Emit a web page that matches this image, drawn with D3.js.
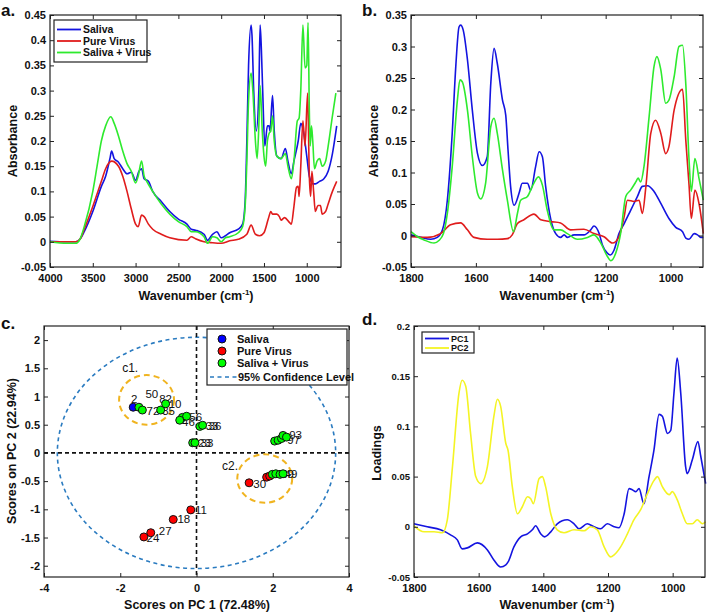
<!DOCTYPE html>
<html>
<head>
<meta charset="utf-8">
<title>FTIR spectra and PCA</title>
<script src="https://cdn.jsdelivr.net/npm/d3@7"></script>
<style>
body { margin: 0; background: #fff; }
text { font-family: "Liberation Sans", Arial, sans-serif; }
</style>
</head>
<body>
<script>

// ---- panel a: full spectra [wavenumber, absorbance] ----
var salivaA = [[4000,0.001],[3800,0],[3700,0],[3650,0.005],[3600,0.02],[3500,0.06],[3400,0.11],[3350,0.13],[3300,0.165],[3280,0.18],[3250,0.165],[3200,0.158],[3150,0.145],[3100,0.135],[3050,0.138],[3000,0.122],[2960,0.14],[2930,0.145],[2900,0.125],[2850,0.12],[2800,0.1],[2700,0.08],[2600,0.06],[2500,0.045],[2400,0.035],[2350,0.025],[2300,0.023],[2200,0.015],[2160,0.003],[2100,0.015],[2050,0.02],[2000,0.008],[1950,0.012],[1900,0.018],[1800,0.025],[1750,0.035],[1720,0.08],[1700,0.2],[1680,0.35],[1650,0.43],[1640,0.41],[1620,0.3],[1590,0.22],[1560,0.3],[1545,0.43],[1530,0.38],[1515,0.3],[1490,0.19],[1460,0.23],[1440,0.23],[1430,0.22],[1400,0.29],[1380,0.22],[1350,0.17],[1300,0.165],[1250,0.185],[1220,0.16],[1180,0.135],[1150,0.16],[1100,0.2],[1070,0.235],[1040,0.22],[1000,0.17],[970,0.13],[950,0.12],[930,0.115],[900,0.115],[850,0.12],[800,0.125],[750,0.14],[700,0.175],[650,0.23]];
var virusA = [[4000,0],[3700,0],[3650,0.005],[3600,0.025],[3500,0.07],[3400,0.12],[3350,0.145],[3280,0.16],[3200,0.15],[3150,0.13],[3100,0.1],[3050,0.065],[3000,0.035],[2970,0.03],[2930,0.053],[2900,0.05],[2850,0.035],[2800,0.025],[2700,0.015],[2600,0.008],[2400,0.003],[2350,0.01],[2300,0.006],[2200,0],[2100,-0.002],[2000,-0.003],[1900,0.002],[1800,0.005],[1700,0.015],[1650,0.033],[1600,0.015],[1550,0.012],[1500,0.018],[1450,0.045],[1420,0.06],[1400,0.055],[1350,0.055],[1320,0.05],[1300,0.043],[1260,0.048],[1200,0.038],[1180,0.035],[1150,0.07],[1120,0.108],[1100,0.11],[1090,0.09],[1070,0.15],[1045,0.24],[1020,0.19],[990,0.295],[970,0.13],[955,0.09],[940,0.14],[920,0.1],[900,0.06],[870,0.072],[840,0.072],[820,0.055],[780,0.06],[750,0.075],[700,0.1],[650,0.12]];
var mixA = [[4000,0],[3800,-0.003],[3700,-0.003],[3650,0.005],[3600,0.03],[3500,0.1],[3450,0.15],[3400,0.2],[3350,0.23],[3290,0.248],[3250,0.235],[3200,0.21],[3150,0.18],[3100,0.155],[3050,0.14],[3000,0.117],[2970,0.13],[2930,0.16],[2900,0.13],[2870,0.12],[2800,0.1],[2700,0.075],[2600,0.055],[2500,0.04],[2400,0.03],[2350,0.02],[2300,0.02],[2200,0.01],[2160,-0.003],[2100,0.01],[2050,0.008],[2000,0],[1950,0.008],[1900,0.01],[1800,0.018],[1750,0.03],[1720,0.07],[1700,0.16],[1680,0.28],[1650,0.335],[1630,0.3],[1600,0.2],[1580,0.165],[1560,0.23],[1545,0.31],[1520,0.22],[1500,0.17],[1480,0.15],[1460,0.2],[1440,0.215],[1420,0.22],[1400,0.25],[1380,0.2],[1350,0.17],[1300,0.165],[1250,0.175],[1220,0.15],[1180,0.125],[1150,0.16],[1110,0.24],[1090,0.245],[1070,0.3],[1045,0.43],[1020,0.345],[1000,0.35],[985,0.435],[970,0.26],[960,0.19],[945,0.23],[930,0.2],[910,0.145],[880,0.16],[850,0.165],[820,0.15],[780,0.16],[750,0.19],[700,0.25],[660,0.295]];

// ---- panel b: fingerprint region ----
var salivaB = [[1800,0.001],[1770,-0.003],[1739,-0.006],[1719,-0.003],[1703,0.009],[1688,0.056],[1673,0.162],[1662,0.268],[1652,0.331],[1647,0.334],[1639,0.326],[1626,0.279],[1611,0.199],[1595,0.13],[1580,0.111],[1565,0.125],[1554,0.242],[1544,0.297],[1534,0.273],[1518,0.215],[1508,0.191],[1501,0.136],[1493,0.078],[1482,0.048],[1467,0.067],[1457,0.083],[1441,0.083],[1431,0.072],[1416,0.109],[1405,0.133],[1395,0.125],[1385,0.078],[1369,0.025],[1354,0.003],[1339,-0.003],[1328,0.001],[1318,-0.003],[1297,0.001],[1267,0.001],[1246,0.009],[1236,0.015],[1220,0.003],[1210,-0.015],[1195,-0.028],[1186,-0.031],[1174,-0.023],[1159,0.003],[1143,0.019],[1123,0.04],[1102,0.062],[1087,0.078],[1071,0.079],[1051,0.07],[1030,0.051],[1005,0.027],[984,0.013],[963,0.006],[953,-0.004],[943,-0.006],[927,0.003],[917,0.001],[907,-0.003],[899,-0.003]];
var virusB = [[1800,-0.002],[1750,-0.003],[1709,0.003],[1678,0.017],[1647,0.02],[1626,0.009],[1606,-0.003],[1565,-0.006],[1534,-0.006],[1503,-0.005],[1488,0.001],[1472,0.019],[1452,0.025],[1421,0.034],[1400,0.025],[1369,0.022],[1339,0.02],[1308,0.009],[1267,0.01],[1236,0.003],[1205,-0.002],[1179,-0.012],[1159,-0.002],[1143,0.03],[1133,0.056],[1112,0.054],[1097,0.056],[1087,0.035],[1076,0.078],[1061,0.162],[1046,0.183],[1030,0.162],[1015,0.13],[1005,0.141],[989,0.199],[963,0.232],[953,0.151],[943,0.08],[936,0.027],[925,0.072],[912,0.05],[899,0.003]];
var mixB = [[1800,0.006],[1780,-0.002],[1760,-0.007],[1729,-0.012],[1714,-0.008],[1700,0.003],[1688,0.035],[1673,0.109],[1657,0.215],[1649,0.247],[1642,0.244],[1626,0.199],[1611,0.125],[1595,0.067],[1585,0.058],[1570,0.083],[1554,0.173],[1544,0.186],[1534,0.162],[1518,0.104],[1503,0.056],[1484,0.006],[1472,0.035],[1462,0.056],[1441,0.062],[1426,0.078],[1407,0.093],[1395,0.08],[1380,0.04],[1359,0.009],[1339,0.009],[1318,0.003],[1287,-0.006],[1256,-0.003],[1236,0.001],[1215,-0.012],[1195,-0.033],[1184,-0.04],[1169,-0.028],[1154,0.003],[1138,0.062],[1123,0.072],[1107,0.085],[1100,0.091],[1092,0.085],[1082,0.109],[1066,0.189],[1051,0.268],[1042,0.284],[1030,0.263],[1015,0.21],[1005,0.215],[989,0.252],[974,0.3],[963,0.302],[953,0.24],[943,0.12],[936,0.07],[925,0.122],[912,0.09],[899,0.056]];

// ---- panel c: PCA scores ----
var scoreX = [-1.66, 1.84, 1.38, -0.15, -0.61, -1.2, -1.38, 1.92, -1.51, -1.42, -0.94, -0.81, -0.37, -0.26, -0.44, 0.09, 0.16, -0.1, -0.04, 2.05, 2.14, 2.23, 2.27, 2.36, 1.99, 2.08, 2.19, 2.27];
var scoreY = [0.81, -0.43, -0.53, -1.01, -1.18, -1.415, -1.49, -0.41, 0.81, 0.76, 0.76, 0.87, 0.63, 0.65, 0.58, 0.47, 0.49, 0.18, 0.18, 0.21, 0.225, 0.255, 0.31, 0.28, -0.38, -0.37, -0.38, -0.37];
var scoreGroup = ["Saliva", "Pure Virus", "Pure Virus", "Pure Virus", "Pure Virus", "Pure Virus", "Pure Virus", "Pure Virus",
  "Saliva + Virus", "Saliva + Virus", "Saliva + Virus", "Saliva + Virus", "Saliva + Virus", "Saliva + Virus", "Saliva + Virus", "Saliva + Virus",
  "Saliva + Virus", "Saliva + Virus", "Saliva + Virus", "Saliva + Virus", "Saliva + Virus", "Saliva + Virus", "Saliva + Virus", "Saliva + Virus",
  "Saliva + Virus", "Saliva + Virus", "Saliva + Virus", "Saliva + Virus"];
var sampleLabel = ["2", "50", "82", "10", "72", "35", "46", "56", "33", "36", "23", "33", "93", "97", "39", "49", "30", "11", "18", "27", "24"];
var labelX = [-1.72, -1.34, -0.98, -0.73, -1.31, -0.9, -0.38, -0.19, 0.24, 0.32, 0.04, 0.11, 2.43, 2.38, 2.22, 2.31, 1.49, -0.04, -0.5, -0.99, -1.31];
var labelY = [0.95, 1.04, 0.955, 0.87, 0.74, 0.75, 0.55, 0.64, 0.47, 0.47, 0.18, 0.18, 0.31, 0.23, -0.37, -0.38, -0.545, -1.02, -1.18, -1.39, -1.5];
var groups = ["Saliva", "Pure Virus", "Saliva + Virus"];

// ---- panel d: PCA loadings ----
var pc1 = [[1800,0.003],[1759,0],[1718,-0.003],[1687,-0.008],[1666,-0.013],[1651,-0.022],[1635,-0.021],[1604,-0.016],[1573,-0.023],[1553,-0.033],[1532,-0.04],[1516,-0.038],[1509,-0.035],[1491,-0.02],[1470,-0.01],[1449,-0.007],[1434,-0.003],[1424,0.001],[1408,-0.007],[1396,-0.01],[1377,-0.005],[1357,0.003],[1326,0.007],[1305,0.003],[1290,-0.002],[1264,0.003],[1243,0],[1223,-0.002],[1202,0.003],[1181,0],[1166,-0.001],[1150,0.013],[1135,0.038],[1125,0.037],[1114,0.035],[1104,0.038],[1089,0.023],[1073,0.05],[1058,0.076],[1042,0.112],[1032,0.11],[1016,0.093],[1006,0.096],[996,0.133],[986,0.168],[975,0.133],[960,0.06],[955,0.053],[939,0.067],[922,0.085],[913,0.07],[898,0.043]];
var pc2 = [[1800,0.001],[1769,-0.005],[1738,-0.005],[1712,-0.006],[1697,0.007],[1681,0.06],[1661,0.133],[1651,0.146],[1640,0.14],[1625,0.093],[1609,0.05],[1594,0.043],[1573,0.06],[1553,0.11],[1542,0.127],[1532,0.12],[1516,0.083],[1509,0.076],[1496,0.04],[1480,0.013],[1465,0.02],[1449,0.03],[1439,0.028],[1431,0.023],[1413,0.048],[1403,0.05],[1393,0.04],[1377,0.013],[1357,-0.003],[1336,-0.006],[1305,-0.003],[1274,-0.004],[1254,0],[1233,-0.003],[1212,-0.02],[1192,-0.03],[1181,-0.028],[1161,-0.02],[1140,-0.007],[1120,0.007],[1099,0.017],[1078,0.033],[1058,0.046],[1047,0.05],[1032,0.04],[1011,0.032],[1001,0.035],[986,0.027],[970,0.013],[955,0.003],[939,0.003],[924,0.007],[908,0.003],[898,0.005]];

var blue = "#1414e0", red = "#e01c1c", green = "#2eea2e", yellow = "#f4f424";
var fill = {"Saliva": "#0000ff", "Pure Virus": "#ff0000", "Saliva + Virus": "#00ff00"};

var svg = d3.select("body").append("svg").attr("width", 708).attr("height", 615);

// box with inward ticks on all four sides
function frame(x, y, xticks, yticks, yfont) {
  var g = svg.append("g");
  var r = x.range(), t = y.range();
  var x0 = Math.min(r[0], r[1]), x1 = Math.max(r[0], r[1]);
  var y0 = Math.min(t[0], t[1]), y1 = Math.max(t[0], t[1]);
  var fmt = function(v) { return String(+v.toFixed(3)); };

  var bottom = g.append("g").attr("transform", "translate(0," + y1 + ")")
    .call(d3.axisBottom(x).tickValues(xticks).tickSizeInner(-4).tickSizeOuter(0).tickPadding(7).tickFormat(fmt));
  g.append("g").attr("transform", "translate(0," + y0 + ")")
    .call(d3.axisTop(x).tickValues(xticks).tickSizeInner(-4).tickSizeOuter(0).tickFormat(""));
  var left = g.append("g").attr("transform", "translate(" + x0 + ",0)")
    .call(d3.axisLeft(y).tickValues(yticks).tickSizeInner(-4).tickSizeOuter(0).tickPadding(4).tickFormat(fmt));
  g.append("g").attr("transform", "translate(" + x1 + ",0)")
    .call(d3.axisRight(y).tickValues(yticks).tickSizeInner(-4).tickSizeOuter(0).tickFormat(""));

  g.selectAll(".domain").remove();
  g.selectAll(".tick line").attr("stroke", "#222").attr("stroke-width", 1);
  g.selectAll(".tick text").attr("fill", "#111").style("font-weight", "bold").style("font-size", "11px")
    .style("font-family", "'Liberation Sans', Arial, sans-serif");
  if (yfont) left.selectAll(".tick text").style("font-size", yfont);

  g.append("rect").attr("x", x0).attr("y", y0).attr("width", x1 - x0).attr("height", y1 - y0)
    .attr("fill", "none").attr("stroke", "#222").attr("stroke-width", 1.2);
  return g;
}

function xTitle(cx, y, withUnit, label) {
  var t = svg.append("text").attr("x", cx).attr("y", y).attr("text-anchor", "middle")
    .style("font-size", "12.5px").style("font-weight", "bold").attr("fill", "#111");
  if (withUnit) {
    t.append("tspan").text("Wavenumber (cm");
    t.append("tspan").attr("dy", -5).style("font-size", "8px").text("-1");
    t.append("tspan").attr("dy", 5).text(")");
  } else {
    t.text(label);
  }
}

function yTitle(x, cy, label) {
  svg.append("text").attr("transform", "translate(" + x + "," + cy + ") rotate(-90)")
    .attr("text-anchor", "middle").style("font-size", "12.5px").style("font-weight", "bold")
    .attr("fill", "#111").text(label);
}

function panelTag(x, y, s) {
  svg.append("text").attr("x", x).attr("y", y).style("font-size", "17px").style("font-weight", "bold")
    .attr("fill", "#111").text(s);
}

function spectrum(x, y, data, color, width) {
  var line = d3.line().x(function(d) { return x(d[0]); }).y(function(d) { return y(d[1]); })
    .curve(d3.curveMonotoneX);
  svg.append("path").datum(data).attr("d", line).attr("fill", "none")
    .attr("stroke", color).attr("stroke-width", width || 1.6).attr("stroke-linejoin", "round");
}

function lineLegend(x, y, w, h, names, colors, fs, rowY, lineW) {
  var g = svg.append("g").attr("transform", "translate(" + x + "," + y + ")");
  g.append("rect").attr("width", w).attr("height", h).attr("fill", "#fff").attr("stroke", "#222").attr("stroke-width", 1.2);
  names.forEach(function(n, i) {
    g.append("line").attr("x1", 3).attr("x2", 3 + lineW).attr("y1", rowY[i]).attr("y2", rowY[i])
      .attr("stroke", colors[i]).attr("stroke-width", 1.8);
    g.append("text").attr("x", 5 + lineW).attr("y", rowY[i]).attr("dy", "0.35em")
      .style("font-size", fs).style("font-weight", "bold").attr("fill", "#111").text(n);
  });
}

// ---------- a ----------
var xa = d3.scaleLinear().domain([4000, 600]).range([50, 341]);
var ya = d3.scaleLinear().domain([-0.05, 0.45]).range([267, 15]);
spectrum(xa, ya, salivaA, blue);
spectrum(xa, ya, virusA, red);
spectrum(xa, ya, mixA, green);
frame(xa, ya, d3.range(1000, 4001, 500), d3.range(-0.05, 0.451, 0.05));
lineLegend(54, 20, 93, 42, groups, [blue, red, green], "10.5px", [9.5, 21, 32.5], 24);
xTitle(196, 300, true);
yTitle(17, 141, "Absorbance");
panelTag(1, 16, "a.");

// ---------- b ----------
var xb = d3.scaleLinear().domain([1800, 900]).range([411, 703]);
var yb = d3.scaleLinear().domain([-0.05, 0.35]).range([267, 15]);
spectrum(xb, yb, salivaB, blue);
spectrum(xb, yb, virusB, red);
spectrum(xb, yb, mixB, green);
frame(xb, yb, d3.range(1000, 1801, 200), d3.range(-0.05, 0.351, 0.05));
xTitle(557, 300, true);
yTitle(378, 141, "Absorbance");
panelTag(362, 16, "b.");

// ---------- c ----------
var xc = d3.scaleLinear().domain([-4, 4]).range([44, 349]);
var yc = d3.scaleLinear().domain([-2.2, 2.25]).range([577, 326]);
var gc = svg.append("g");
gc.append("ellipse").attr("cx", xc(0)).attr("cy", yc(0))
  .attr("rx", xc(3.65) - xc(0)).attr("ry", yc(0) - yc(2.05))
  .attr("fill", "none").attr("stroke", "#2a7bc0").attr("stroke-width", 1.6).attr("stroke-dasharray", "4,3.5");
gc.append("line").attr("x1", xc(0)).attr("x2", xc(0)).attr("y1", 326).attr("y2", 577)
  .attr("stroke", "#111").attr("stroke-width", 1.6).attr("stroke-dasharray", "4,3");
gc.append("line").attr("x1", 44).attr("x2", 349).attr("y1", yc(0)).attr("y2", yc(0))
  .attr("stroke", "#111").attr("stroke-width", 1.6).attr("stroke-dasharray", "4,3");

// highlighted clusters c1 / c2
[[-1.31, 0.94, 0.72, 0.44], [1.79, -0.455, 0.72, 0.43]].forEach(function(c) {
  gc.append("ellipse").attr("cx", xc(c[0])).attr("cy", yc(c[1]))
    .attr("rx", xc(c[0] + c[2]) - xc(c[0])).attr("ry", yc(c[1]) - yc(c[1] + c[3]))
    .attr("fill", "none").attr("stroke", "#f0b420").attr("stroke-width", 2).attr("stroke-dasharray", "6,4");
});
gc.append("text").attr("x", xc(-1.95)).attr("y", yc(1.43)).style("font-size", "12px").attr("fill", "#111").text("c1.");
gc.append("text").attr("x", xc(0.67)).attr("y", yc(-0.3)).style("font-size", "12px").attr("fill", "#111").text("c2.");

gc.selectAll("text.lab").data(sampleLabel).enter().append("text").attr("class", "lab")
  .attr("x", function(d, i) { return xc(labelX[i]); })
  .attr("y", function(d, i) { return yc(labelY[i]); })
  .attr("dy", "0.35em").style("font-size", "11.5px").attr("fill", "#111").text(function(d) { return d; });

var order = d3.range(scoreX.length).sort(function(a, b) {
  return groups.indexOf(scoreGroup[a]) - groups.indexOf(scoreGroup[b]);
});
gc.selectAll("circle.pt").data(order).enter().append("circle").attr("class", "pt")
  .attr("cx", function(i) { return xc(scoreX[i]); })
  .attr("cy", function(i) { return yc(scoreY[i]); })
  .attr("r", 4).attr("fill", function(i) { return fill[scoreGroup[i]]; })
  .attr("stroke", "#111").attr("stroke-width", 1);

frame(xc, yc, [-4, -2, 0, 2, 4], d3.range(-2, 2.01, 0.5));

var lc = svg.append("g").attr("transform", "translate(207,329)");
lc.append("rect").attr("width", 140).attr("height", 56).attr("fill", "#fff").attr("stroke", "#222").attr("stroke-width", 1.2);
groups.forEach(function(n, i) {
  lc.append("circle").attr("cx", 15).attr("cy", 10 + i * 12).attr("r", 4).attr("fill", fill[n]).attr("stroke", "#111");
  lc.append("text").attr("x", 30).attr("y", 10 + i * 12).attr("dy", "0.35em")
    .style("font-size", "11px").style("font-weight", "bold").attr("fill", "#111").text(n);
});
lc.append("line").attr("x1", 3).attr("x2", 30).attr("y1", 48).attr("y2", 48)
  .attr("stroke", "#2a7bc0").attr("stroke-width", 1.6).attr("stroke-dasharray", "4,3.5");
lc.append("text").attr("x", 31).attr("y", 48).attr("dy", "0.35em")
  .style("font-size", "11px").style("font-weight", "bold").attr("fill", "#111").text("95% Confidence Level");

xTitle(197, 609, false, "Scores on PC 1 (72.48%)");
yTitle(16, 451, "Scores on PC 2 (22.94%)");
panelTag(1, 329, "c.");

// ---------- d ----------
var xd = d3.scaleLinear().domain([1800, 900]).range([414, 705]);
var yd = d3.scaleLinear().domain([-0.05, 0.2]).range([577, 326]);
spectrum(xd, yd, pc1, blue);
spectrum(xd, yd, pc2, yellow);
frame(xd, yd, d3.range(1000, 1801, 200), d3.range(-0.05, 0.201, 0.05), "9.5px");
lineLegend(422, 332, 52, 21, ["PC1", "PC2"], [blue, yellow], "9px", [6.5, 16], 24);
xTitle(557, 609, true);
yTitle(381, 453, "Loadings");
panelTag(362, 325, "d.");

</script>
</body>
</html>
